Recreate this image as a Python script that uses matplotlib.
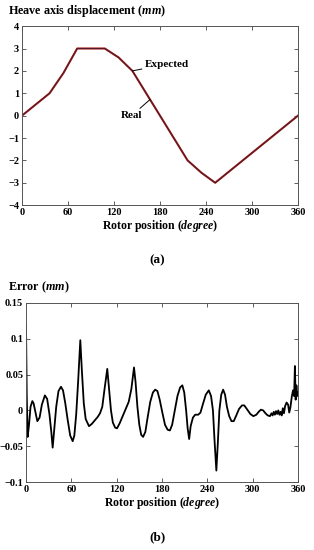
import numpy as np
import matplotlib
matplotlib.use("Agg")
import matplotlib.pyplot as plt

plt.rcParams['font.family'] = ['Liberation Serif', 'DejaVu Serif']
plt.rcParams['font.weight'] = 'bold'
plt.rcParams['mathtext.fontset'] = 'custom'
plt.rcParams['mathtext.it'] = 'Liberation Serif:italic:bold'
plt.rcParams['mathtext.rm'] = 'Liberation Serif:bold'
plt.rcParams['axes.unicode_minus'] = True

# (a) heave axis displacement, mm vs rotor position, degree
pos_exp = [0, 36, 54, 72, 108, 126, 144, 180, 216, 234, 252, 360]
heave_exp = [0, 1, 1.9, 3, 3, 2.6, 2, 0, -2, -2.55, -3, 0]
pos_real = [0, 36, 54, 72, 108, 126, 144, 180, 216, 234, 252, 360]
heave_real = [0, 1, 1.9, 3, 3, 2.6, 2, 0, -2, -2.55, -3, 0]

# (b) error, mm
err_pos = [0, 1, 2.2, 4, 6, 8.4, 10, 12, 15, 18, 21, 25, 28, 31, 33.5, 35.3,
           37.5, 40, 43, 46.3, 49, 52, 55, 58.5, 61.8, 64, 66.5, 69, 71.9, 74,
           76.5, 79, 83.4, 87, 91, 95, 98, 101, 104, 107.6, 110, 112.5, 115,
           118, 120.5, 124, 128, 132, 136, 139.5, 143, 145, 147.5, 150, 152.5,
           155, 158, 161, 164.5, 168, 171, 174, 177, 180.5, 184, 187.5, 190.5,
           193.5, 197, 200.5, 204, 207, 209.5, 212, 214, 216, 218, 221, 224,
           228, 231, 234, 238, 242, 245, 247.5, 249.5, 252, 254, 256, 258.5,
           261, 263.5, 266, 269, 272, 275, 278, 282, 286, 289, 293, 297, 301,
           305, 308, 311, 314, 317, 320, 323, 325, 326.5, 328, 329.5, 331,
           332.5, 334, 335.5, 337, 338.5, 340, 341.5, 343, 345, 347, 348.5,
           350, 352, 353.5, 355, 356, 357, 358, 359, 360]
err_val = [0.12, 0.02, -0.037, -0.02, 0.005, 0.013, 0.010, 0.000, -0.015,
           -0.010, 0.008, 0.021, 0.016, -0.005, -0.030, -0.052, -0.025, 0.005,
           0.027, 0.033, 0.028, 0.010, -0.012, -0.035, -0.043, -0.035, -0.005,
           0.040, 0.098, 0.055, 0.010, -0.012, -0.022, -0.019, -0.014, -0.009,
           -0.004, 0.005, 0.030, 0.058, 0.030, 0.000, -0.017, -0.024, -0.025,
           -0.018, -0.008, 0.002, 0.012, 0.030, 0.060, 0.040, 0.005, -0.020,
           -0.034, -0.037, -0.030, -0.010, 0.012, 0.025, 0.029, 0.027, 0.015,
           -0.003, -0.020, -0.027, -0.028, -0.020, 0.000, 0.020, 0.032, 0.035,
           0.025, 0.000, -0.025, -0.040, -0.022, -0.010, -0.006, -0.006,
           -0.003, 0.008, 0.022, 0.028, 0.020, 0.000, -0.040, -0.084, -0.045,
           0.000, 0.022, 0.029, 0.022, 0.005, -0.008, -0.015, -0.015, -0.008,
           0.002, 0.007, 0.007, 0.001, -0.005, -0.008, -0.006, -0.002, 0.001,
           0.000, -0.004, -0.007, -0.008, -0.004, -0.007, -0.002, -0.006,
           -0.001, -0.005, 0.000, -0.006, -0.002, -0.007, 0.003, -0.004, 0.006,
           0.011, 0.008, -0.003, 0.004, 0.020, 0.028, 0.020, 0.062, 0.015,
           0.035, 0.020, 0.025]

xticks = [0, 60, 120, 180, 240, 300, 360]
yticks_a = [-4, -3, -2, -1, 0, 1, 2, 3, 4]
yticks_b = [-0.1, -0.05, 0, 0.05, 0.1, 0.15]
ylabels_b = ["\u22120.1", "\u22120.05", "0", "0.05", "0.1", "0.15"]

fig = plt.figure(figsize=(3.14, 5.5), dpi=100)

def style(ax):
    ax.tick_params(direction='in', top=True, right=True, length=3,
                   width=0.6, labelsize=7.5, pad=2, color='#444444')
    for s in ax.spines.values():
        s.set_linewidth(0.7)
        s.set_color('#555555')
    for lab in ax.get_xticklabels() + ax.get_yticklabels():
        lab.set_fontweight('bold')

# ---- (a)
ax1 = fig.add_axes([0.070, 0.627, 0.879, 0.3255])
ax1.plot(pos_exp, heave_exp, color='#b02018', lw=1.5)
ax1.plot(pos_real, heave_real, color='#3a1a30', lw=0.8, alpha=0.8)
ax1.set_xlim(0, 360)
ax1.set_ylim(-4, 4)
ax1.set_xticks(xticks)
ax1.set_yticks(yticks_a)
style(ax1)
ax1.set_xlabel("Rotor position ($degree$)", fontsize=8.5, fontweight='bold', labelpad=1)
ax1.annotate("Expected", xy=(144, 2.0), xytext=(160, 2.3), fontsize=8,
             fontweight='bold', va='center', ha='left',
             arrowprops=dict(arrowstyle='-', lw=0.7, color='black', shrinkA=0, shrinkB=0))
ax1.annotate("Real", xy=(167, 0.72), xytext=(129, 0.0), fontsize=8,
             fontweight='bold', va='center', ha='left',
             arrowprops=dict(arrowstyle='-', lw=0.7, color='black', shrinkA=0, shrinkB=0))
fig.text(0.025, 0.98, "Heave axis displacement ($mm$)", fontsize=8.7,
         fontweight='bold', ha='left', va='center')
fig.text(0.5, 0.527, "(a)", fontsize=9.5, fontweight='bold', ha='center', va='center')

# ---- (b)
ax2 = fig.add_axes([0.0828, 0.1236, 0.866, 0.3255])
ax2.plot(err_pos, err_val, color='black', lw=1.3)
ax2.set_xlim(0, 360)
ax2.set_ylim(-0.1, 0.15)
ax2.set_xticks(xticks)
ax2.set_yticks(yticks_b)
ax2.set_yticklabels(ylabels_b)
style(ax2)
ax2.set_xlabel("Rotor position ($degree$)", fontsize=8.5, fontweight='bold', labelpad=1)
fig.text(0.025, 0.478, "Error ($mm$)", fontsize=8.7, fontweight='bold',
         ha='left', va='center')
fig.text(0.5, 0.024, "(b)", fontsize=9.5, fontweight='bold', ha='center', va='center')

fig.savefig("out.png", dpi=100)
